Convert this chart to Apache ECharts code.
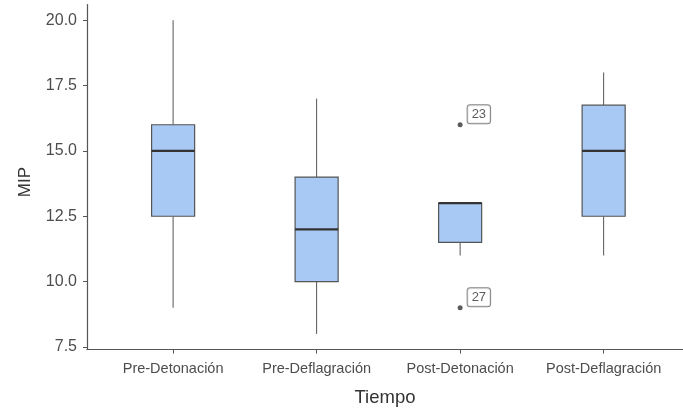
<!DOCTYPE html>
<html>
<head>
<meta charset="utf-8">
<script src="https://cdn.jsdelivr.net/npm/echarts@6/dist/echarts.min.js"></script>
<style>html,body{margin:0;padding:0;background:#fff}#c{width:683px;height:410px}</style>
</head>
<body>
<div id="c"></div>
<script>
const categories = ['Pre-Detonación', 'Pre-Deflagración', 'Post-Detonación', 'Post-Deflagración'];
const whiskerLow = [9, 8, 11, 11];
const q1 = [12.5, 10, 11.5, 12.5];
const median = [15, 12, 13, 15];
const q3 = [16, 14, 13, 16.75];
const whiskerHigh = [20, 17, 13, 18];
const outlierCategory = [3, 3];
const outlierValue = [16, 9];
const outlierLabel = ['23', '27'];
const yTicks = [7.5, 10, 12.5, 15, 17.5, 20];

const boxData = categories.map((c, i) => [i + 1, whiskerLow[i], q1[i], median[i], q3[i], whiskerHigh[i]]);
const outlierData = outlierValue.map((v, i) => ({ value: [outlierCategory[i], v], name: outlierLabel[i] }));

const chart = echarts.init(document.getElementById('c'), null, { renderer: 'canvas' });
const font = 'Liberation Sans, Arial, sans-serif';
chart.setOption({
  animation: false,
  grid: { left: 87, right: 0, top: 4.5, bottom: 60.4, containLabel: false, outerBoundsMode: 'none' },
  xAxis: {
    type: 'value', min: 0.4, max: 4.553,
    name: 'Tiempo', nameLocation: 'middle', nameGap: 39,
    nameTextStyle: { fontFamily: font, fontSize: 18.5, color: '#333' },
    axisLine: { show: true, onZero: false, lineStyle: { color: '#555', width: 1.2 } },
    axisTick: { show: true, customValues: [1, 2, 3, 4], length: 4, lineStyle: { color: '#555' } },
    axisLabel: { customValues: [1, 2, 3, 4], formatter: v => categories[Math.round(v) - 1], margin: 12,
      fontFamily: font, fontSize: 14.5, color: '#4d4d4d' },
    splitLine: { show: false }
  },
  yAxis: {
    type: 'value', min: 7.4, max: 20.6,
    name: 'MIP', nameLocation: 'middle', nameGap: 53, nameRotate: 90,
    nameTextStyle: { fontFamily: font, fontSize: 17, color: '#333', padding: [0, 10, 0, 0] },
    axisLine: { show: true, onZero: false, lineStyle: { color: '#555', width: 1.2 } },
    axisTick: { show: true, customValues: yTicks, length: 4, lineStyle: { color: '#555' } },
    axisLabel: { customValues: yTicks, formatter: v => v.toFixed(1), margin: 10,
      fontFamily: font, fontSize: 16, color: '#4d4d4d' },
    splitLine: { show: false }
  },
  series: [
    {
      type: 'custom',
      data: boxData,
      encode: { x: 0, y: [1, 2, 3, 4, 5] },
      renderItem: function (params, api) {
        const x = api.value(0);
        const halfW = api.size([0.3, 0])[0] / 2;
        const pLow = api.coord([x, api.value(1)]);
        const pQ1 = api.coord([x, api.value(2)]);
        const pMed = api.coord([x, api.value(3)]);
        const pQ3 = api.coord([x, api.value(4)]);
        const pHigh = api.coord([x, api.value(5)]);
        const cx = pMed[0];
        const wStyle = { stroke: '#555', lineWidth: 1 };
        return {
          type: 'group',
          children: [
            { type: 'line', shape: { x1: cx, y1: pHigh[1], x2: cx, y2: pQ3[1] }, style: wStyle },
            { type: 'line', shape: { x1: cx, y1: pQ1[1], x2: cx, y2: pLow[1] }, style: wStyle },
            { type: 'rect', shape: { x: cx - halfW, y: pQ3[1], width: halfW * 2, height: pQ1[1] - pQ3[1] },
              style: { fill: '#a7c9f3', stroke: '#555', lineWidth: 1.2 } },
            { type: 'line', shape: { x1: cx - halfW, y1: pMed[1], x2: cx + halfW, y2: pMed[1] },
              style: { stroke: '#333', lineWidth: 2.2 } }
          ]
        };
      }
    },
    {
      type: 'scatter',
      data: outlierData,
      symbol: 'circle', symbolSize: 5,
      itemStyle: { color: '#333' },
      label: {
        show: true, formatter: p => p.name, position: 'right', distance: 5, offset: [0, -10.5],
        fontFamily: font, fontSize: 13, color: '#333',
        backgroundColor: '#fff', borderColor: '#666', borderWidth: 1, borderRadius: 2.5,
        padding: [3, 4, 2, 4]
      }
    }
  ]
});
</script>
</body>
</html>
